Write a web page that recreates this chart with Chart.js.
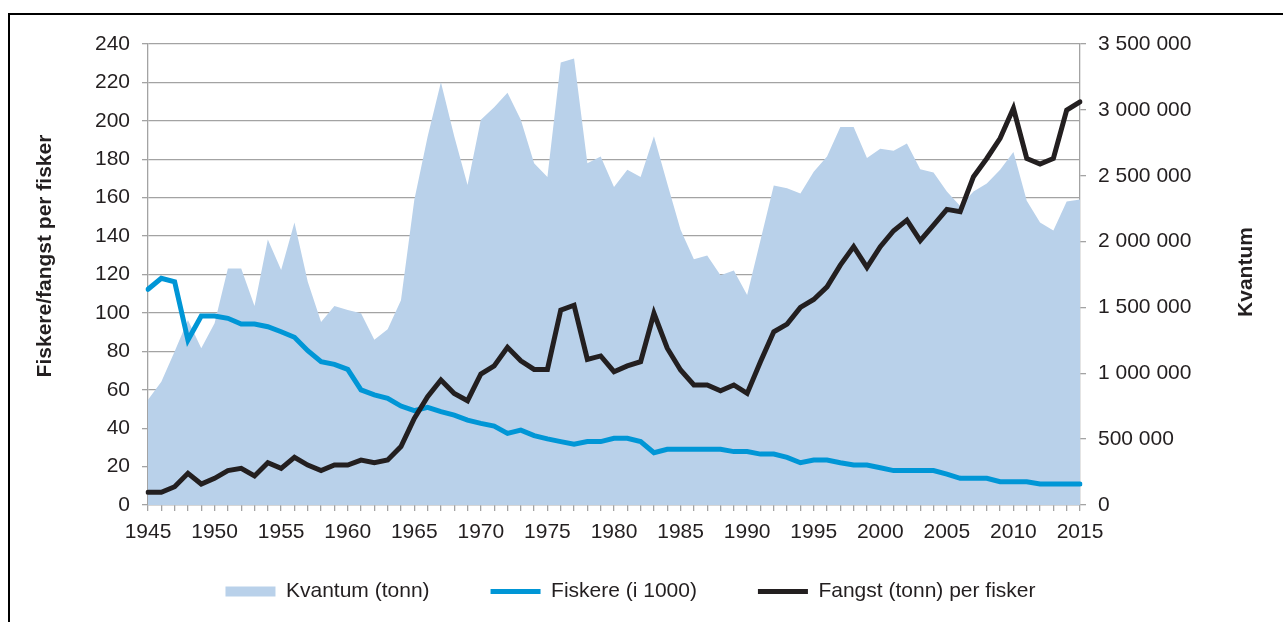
<!DOCTYPE html>
<html>
<head>
<meta charset="utf-8">
<script src="https://cdn.jsdelivr.net/npm/chart.js@4.4.0/dist/chart.umd.min.js"></script>
<style>
  html, body { margin: 0; padding: 0; background: #fff; overflow: hidden; }
  #wrap { position: absolute; left: 0; top: 0; width: 1283px; height: 622px; }
  #frame { position: absolute; left: 8px; top: 13px; width: 1400px; height: 800px;
           border-left: 2px solid #000; border-top: 2px solid #000; pointer-events: none; }
</style>
</head>
<body>
<div id="wrap">
  <canvas id="chart" width="1283" height="622"></canvas>
</div>
<div id="frame"></div>
<script>
// Colors
const COLORS = {
    text: '#231f20',
    grid: '#a3a3a3',
    area: '#b9d1ea',
    fiskere: '#0096d6',
    fangst: '#231f20'
};

const years = [
    '1945', '1946', '1947', '1948', '1949', '1950', '1951', '1952', '1953', '1954',
    '1955', '1956', '1957', '1958', '1959', '1960', '1961', '1962', '1963', '1964',
    '1965', '1966', '1967', '1968', '1969', '1970', '1971', '1972', '1973', '1974',
    '1975', '1976', '1977', '1978', '1979', '1980', '1981', '1982', '1983', '1984',
    '1985', '1986', '1987', '1988', '1989', '1990', '1991', '1992', '1993', '1994',
    '1995', '1996', '1997', '1998', '1999', '2000', '2001', '2002', '2003', '2004',
    '2005', '2006', '2007', '2008', '2009', '2010', '2011', '2012', '2013', '2014', '2015'
];

// Kvantum (tonn) - right axis
const kvantum = [
    800000, 935000, 1165000, 1405000, 1190000, 1380000, 1795000, 1795000, 1510000, 2015000,
    1785000, 2145000, 1695000, 1390000, 1510000, 1480000, 1455000, 1255000, 1335000, 1555000,
    2315000, 2795000, 3210000, 2800000, 2430000, 2925000, 3020000, 3130000, 2925000, 2595000,
    2490000, 3360000, 3390000, 2595000, 2645000, 2415000, 2545000, 2490000, 2800000, 2440000,
    2090000, 1865000, 1895000, 1745000, 1780000, 1595000, 2010000, 2425000, 2405000, 2365000,
    2530000, 2645000, 2870000, 2870000, 2635000, 2705000, 2690000, 2745000, 2550000, 2525000,
    2380000, 2270000, 2380000, 2440000, 2545000, 2680000, 2310000, 2145000, 2085000, 2305000, 2320000
];

// Fiskere (i 1000) - left axis
const fiskere = [
    112.3, 118, 116.2, 85.9, 98.4, 98.4, 97.2, 94.2, 94.2, 92.8,
    90.2, 87.3, 80.3, 74.6, 73.2, 70.6, 59.9, 57.3, 55.5, 51.5,
    49.1, 50.8, 48.6, 46.8, 44.2, 42.5, 41.1, 37.3, 39, 36.1,
    34.4, 33, 31.6, 33, 33, 34.7, 34.7, 33, 27.2, 29,
    29, 29, 29, 29, 27.8, 27.8, 26.5, 26.5, 24.8, 22,
    23.4, 23.4, 22, 20.8, 20.8, 19.4, 17.9, 17.9, 17.9, 17.9,
    16.1, 13.9, 13.9, 13.9, 12.1, 12.1, 12.1, 10.9, 10.9, 10.9, 10.9
];

// Fangst (tonn) per fisker - left axis
const fangstPerFisker = [
    6.6, 6.6, 9.5, 16.5, 10.9, 13.9, 17.9, 19.1, 15.1, 22,
    19.1, 24.8, 20.8, 17.9, 20.8, 20.8, 23.4, 22, 23.4, 30.4,
    45.1, 56.4, 65.1, 58.1, 54.3, 68.2, 72.4, 82.1, 75.1, 70.6,
    70.6, 101.5, 104, 75.8, 77.6, 69.4, 72.4, 74.6, 99.8, 81.6,
    70.3, 62.5, 62.5, 59.5, 62.5, 58.1, 74.6, 90.2, 94.2, 102.9,
    107, 113.6, 124.9, 134.5, 123.7, 134.5, 142.8, 148.3, 137.6, 145.7,
    153.9, 152.7, 170.9, 180.4, 190.9, 206.5, 180.4, 177.5, 180.4, 205.6, 209.9
];

const leftTitle = 'Fiskere/fangst per fisker';
const rightTitle = 'Kvantum';

Chart.defaults.font.family = "'Liberation Sans', Arial, sans-serif";
Chart.defaults.font.size = 21;
Chart.defaults.color = COLORS.text;

function spaced(v) {
    return v.toString().replace(/\B(?=(\d{3})+(?!\d))/g, ' ');
}

// rotated axis titles, both reading bottom-to-top
const axisTitles = {
    id: 'axisTitles',
    afterDraw(chart) {
        const ctx = chart.ctx;
        ctx.save();
        ctx.fillStyle = COLORS.text;
        ctx.font = "bold 21px 'Liberation Sans', Arial, sans-serif";
        ctx.textAlign = 'center';
        ctx.textBaseline = 'middle';
        ctx.translate(45, 256);
        ctx.rotate(-Math.PI / 2);
        ctx.fillText(leftTitle, 0, 0);
        ctx.restore();

        ctx.save();
        ctx.fillStyle = COLORS.text;
        ctx.font = "bold 21px 'Liberation Sans', Arial, sans-serif";
        ctx.textAlign = 'center';
        ctx.textBaseline = 'middle';
        ctx.translate(1246, 272);
        ctx.rotate(-Math.PI / 2);
        ctx.fillText(rightTitle, 0, 0);
        ctx.restore();
    }
};

const ctx = document.getElementById('chart').getContext('2d');

new Chart(ctx, {
    type: 'line',
    data: {
        labels: years,
        datasets: [
            {
                label: 'Kvantum (tonn)',
                data: kvantum,
                yAxisID: 'y1',
                fill: 'origin',
                backgroundColor: COLORS.area,
                borderColor: 'rgba(0,0,0,0)',
                borderWidth: 0,
                pointRadius: 0,
                pointStyle: 'rect',
                tension: 0,
                order: 3
            },
            {
                label: 'Fiskere (i 1000)',
                data: fiskere,
                yAxisID: 'y',
                borderColor: COLORS.fiskere,
                backgroundColor: COLORS.fiskere,
                borderWidth: 5,
                borderCapStyle: 'round',
                pointRadius: 0,
                pointStyle: 'line',
                fill: false,
                tension: 0,
                order: 2
            },
            {
                label: 'Fangst (tonn) per fisker',
                data: fangstPerFisker,
                yAxisID: 'y',
                borderColor: COLORS.fangst,
                backgroundColor: COLORS.fangst,
                borderWidth: 5,
                borderCapStyle: 'round',
                pointRadius: 0,
                pointStyle: 'line',
                fill: false,
                tension: 0,
                order: 1
            }
        ]
    },
    options: {
        responsive: false,
        animation: false,
        events: [],
        layout: { padding: { left: 0, right: 22, top: 44, bottom: 10 } },
        scales: {
            x: {
                offset: false,
                grid: { drawOnChartArea: false, drawTicks: true, tickLength: 6, color: COLORS.grid, lineWidth: 1.3 },
                border: { color: COLORS.grid, width: 1.3 },
                ticks: {
                    autoSkip: false,
                    maxRotation: 0,
                    padding: 9,
                    callback: function (val, i) {
                        const y = years[i];
                        return Number(y) % 5 === 0 ? y : '';
                    }
                },
                afterFit(scale) {
                    scale.height = 15;
                    // labels hang below the (short) axis box, so don't clip them
                    scale._computeLabelArea = () => undefined;
                }
            },
            y: {
                position: 'left',
                min: 0,
                max: 240,
                ticks: { stepSize: 20, padding: 12 },
                grid: { color: COLORS.grid, lineWidth: 1.3, tickLength: 6 },
                border: { color: COLORS.grid, width: 1.3 },
                afterFit(scale) { scale.width = 148; }
            },
            y1: {
                position: 'right',
                min: 0,
                max: 3500000,
                ticks: { stepSize: 500000, padding: 12, callback: v => spaced(v) },
                grid: { drawOnChartArea: false, color: COLORS.grid, lineWidth: 1.3, tickLength: 6 },
                border: { color: COLORS.grid, width: 1.3 },
                afterFit(scale) { scale.width = 181; }
            }
        },
        plugins: {
            tooltip: { enabled: false },
            legend: {
                position: 'bottom',
                labels: {
                    usePointStyle: true,
                    pointStyleWidth: 50,
                    boxHeight: 10,
                    padding: 61,
                    color: COLORS.text,
                    font: { size: 21 },
                    sort: (a, b) => a.datasetIndex - b.datasetIndex
                }
            }
        }
    },
    plugins: [axisTitles]
});
</script>
</body>
</html>
